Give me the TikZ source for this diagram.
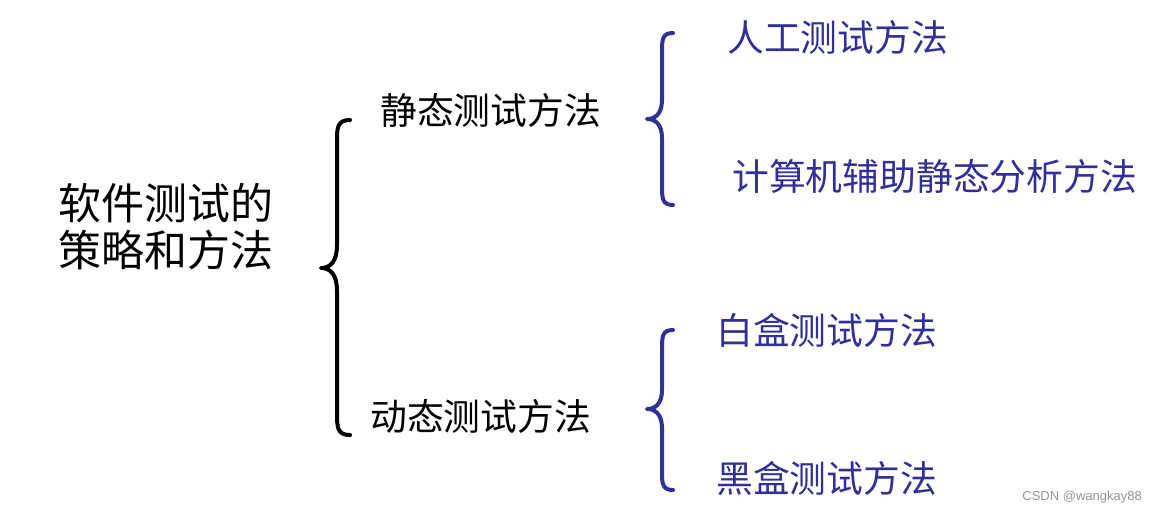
\documentclass[tikz,border=0pt]{standalone}
\usepackage{fontspec}
\setmainfont{Liberation Sans}
\newfontfamily\cjk{Noto Sans CJK SC}
\definecolor{tblue}{RGB}{48,48,150}
\definecolor{wmgray}{RGB}{150,150,150}
\begin{document}
\begin{tikzpicture}[x=1pt,y=-1pt,
  rootlbl/.style={inner sep=0pt,anchor=west,font=\cjk\fontsize{43}{47}\selectfont,align=left},
  lvlone/.style={inner sep=0pt,anchor=west,font=\cjk\fontsize{36.8}{40}\selectfont,text=black},
  lvltwo/.style={inner sep=0pt,anchor=west,font=\cjk\fontsize{36.8}{40}\selectfont,text=tblue},
  bracepath/.style={line width=4pt,line cap=round,line join=round},
  wm/.style={inner sep=0pt,anchor=east,font=\fontsize{13}{15}\selectfont,text=wmgray}]
\useasboundingbox (0,0) rectangle (1157,515);
\fill[white] (0,0) rectangle (1157,515);
% texts
\node[rootlbl] (root) at (58,227) {软件测试的\\策略和方法};
\node[lvlone] (static) at (380,110) {静态测试方法};
\node[lvlone] (dynamic) at (370,416) {动态测试方法};
\node[lvltwo] (manual) at (727,37) {人工测试方法};
\node[lvltwo] (cas) at (732,176) {计算机辅助静态分析方法};
\node[lvltwo] (white) at (716,330) {白盒测试方法};
\node[lvltwo] (black) at (716,478) {黑盒测试方法};
\node[wm] (mark) at (1142,497) {CSDN @wangkay88};
% big brace
\draw[bracepath,black] (350,120) .. controls (337,120) and (337,128) .. (337,142)
  -- (337,245) .. controls (337,262) and (330,268) .. (321,268)
  .. controls (330,268) and (337,274) .. (337,291)
  -- (337,412) .. controls (337,427) and (337,435) .. (350,435);
% upper blue brace
\draw[bracepath,tblue] (673,33) .. controls (662,33) and (662,40) .. (662,52)
  -- (662,100) .. controls (662,114) and (655,119) .. (647,119)
  .. controls (655,119) and (662,124) .. (662,138)
  -- (662,186) .. controls (662,198) and (662,205) .. (673,205);
% lower blue brace
\draw[bracepath,tblue] (673,330) .. controls (662,330) and (662,337) .. (662,349)
  -- (662,390) .. controls (662,404) and (655,409) .. (647,409)
  .. controls (655,409) and (662,414) .. (662,428)
  -- (662,471) .. controls (662,483) and (662,490) .. (673,490);
\end{tikzpicture}
\end{document}
